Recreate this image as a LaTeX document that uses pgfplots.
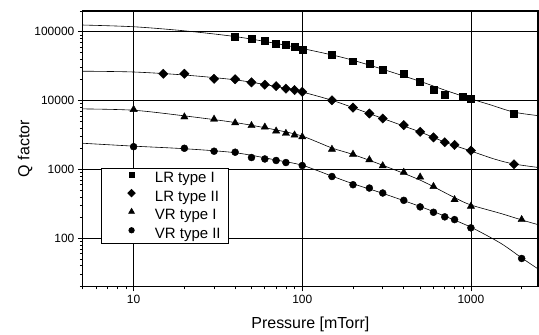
\documentclass[border=0pt]{standalone}
\usepackage{fontspec}
\setmainfont{Liberation Sans}
\usepackage{pgfplots}
\pgfplotsset{compat=1.18}
\begin{document}
\begin{tikzpicture}
\path[use as bounding box] (-83pt,-48pt) rectangle (457pt,287pt);
\begin{loglogaxis}[
  scale only axis, width=456pt, height=276pt,
  xmin=5, xmax=2500, ymin=20, ymax=200000,
  xtick={10,100,1000}, xticklabels={10,100,1000},
  ytick={100,1000,10000,100000}, yticklabels={100,1000,10000,100000},
  minor xtick={5,6,7,8,9,20,30,40,50,60,70,80,90,200,300,400,500,600,700,800,900,2000},
  minor ytick={20,30,40,50,60,70,80,90,200,300,400,500,600,700,800,900,2000,3000,4000,5000,6000,7000,8000,9000,20000,30000,40000,50000,60000,70000,80000,90000,200000},
  tick pos=left, tick align=outside,
  major tick length=5pt, minor tick length=3pt,
  grid=major, major grid style={black, line width=0.6pt},
  minor grid style={draw=none},
  axis line style={line width=1.1pt},
  every tick/.style={black, line width=0.7pt},
  ticklabel style={font=\fontsize{12}{14}\selectfont},
  xlabel={Pressure [mTorr]}, ylabel={Q factor},
  label style={font=\fontsize{16}{19}\selectfont},
  xlabel style={at={(axis description cs:0.5,-0.138)}, anchor=center},
  ylabel style={at={(axis description cs:-0.127,0.5)}, anchor=center},
  legend style={at={(axis description cs:0.0395,0.431)}, anchor=north west,
    draw=black, line width=0.8pt, fill=white, inner xsep=6pt, inner ysep=2pt,
    nodes={inner sep=2pt}, cells={anchor=west}, row sep=2.8pt,
    font=\fontsize{15}{18}\selectfont},
]
% fitted curves
\addplot[black, line width=0.6pt, smooth, forget plot] coordinates {
(5,125000) (10,118000) (20,103000) (40,85000) (70,67500) (100,57000) (150,46000) (200,38500) (300,28500) (500,19000) (700,14200) (1000,10600) (1300,8700) (1800,6800) (2500,6050)};
\addplot[black, line width=0.6pt, smooth, forget plot] coordinates {
(5,26700) (10,26000) (20,23500) (40,20000) (70,16000) (100,13300) (150,10100) (200,7900) (300,5500) (500,3500) (700,2500) (1000,1850) (1400,1400) (1800,1200) (2500,1070)};
\addplot[black, line width=0.6pt, smooth, forget plot] coordinates {
(5,7570) (10,7240) (20,6000) (40,4800) (70,3750) (100,3050) (150,2050) (200,1650) (300,1150) (500,700) (800,390) (1000,305) (1500,230) (2000,185) (2500,158)};
\addplot[black, line width=0.6pt, smooth, forget plot] coordinates {
(5,2400) (10,2180) (20,2000) (40,1750) (70,1370) (100,1150) (150,800) (200,620) (300,450) (500,290) (700,210) (1000,145) (1500,85) (2000,52) (2500,36)};
% data
\addplot[only marks, mark=square*, mark size=3.5pt, black,
  legend image code/.code={\path (0pt,0pt) (45pt,0pt); \draw[black, mark=square*, mark size=2.5pt] plot coordinates {(24pt,3.5pt)};}]
coordinates {
(40,85000) (50,79300) (60,73400) (70,67200) (80,64300) (90,60100) (100,55600) (150,46600) (200,37300) (250,34200) (300,28300) (400,24200) (500,18800) (600,14400) (700,12300) (900,11200) (1000,10800) (1800,6490)};
\addlegendentry{LR type I}
\addplot[only marks, mark=square*, mark options={rotate=45}, mark size=3.3pt, black,
  legend image code/.code={\path (0pt,0pt) (45pt,0pt); \draw[black, mark=square*, mark options={rotate=45}, mark size=2.6pt] plot coordinates {(24pt,3.5pt)};}]
coordinates {
(15,24500) (20,24500) (30,20700) (40,20400) (50,18400) (60,17000) (70,16200) (80,14900) (90,14200) (100,13400) (150,10100) (200,7900) (250,6490) (300,5490) (400,4400) (500,3520) (600,2920) (700,2480) (800,2270) (1000,1880) (1800,1190)};
\addlegendentry{LR type II}
\addplot[only marks, mark=triangle*, mark size=4.2pt, black,
  legend image code/.code={\path (0pt,0pt) (45pt,0pt); \draw[black, mark=triangle*, mark size=3.2pt] plot coordinates {(24pt,3.5pt)};}]
coordinates {
(10,7420) (20,5790) (30,5370) (40,4750) (50,4330) (60,4120) (70,3610) (80,3340) (90,3160) (100,2980) (150,1960) (200,1660) (250,1380) (300,1130) (400,908) (500,775) (600,566) (800,364) (1000,292) (2000,187)};
\addlegendentry{VR type I}
\addplot[only marks, mark=*, mark size=3.5pt, black,
  legend image code/.code={\path (0pt,0pt) (45pt,0pt); \draw[black, mark=*, mark size=2.7pt] plot coordinates {(24pt,3.5pt)};}]
coordinates {
(10,2140) (20,2030) (30,1840) (40,1780) (50,1490) (60,1420) (70,1350) (80,1260) (100,1140) (150,790) (200,600) (250,537) (300,455) (400,356) (500,286) (600,239) (700,205) (800,187) (1000,142) (2000,51)};
\addlegendentry{VR type II}
\end{loglogaxis}
\end{tikzpicture}
\end{document}
